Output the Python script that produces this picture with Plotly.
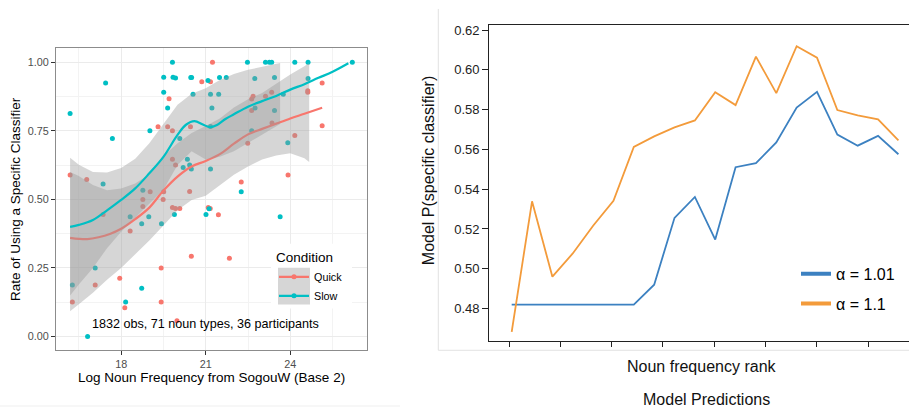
import plotly.graph_objects as go

W, H = 909, 409

# ---------------- Left panel data ----------------
quick_x = [16.19, 16.78, 17.36, 18.32, 18.77, 18.77, 19.03, 19.49, 19.51, 19.31,
           19.65, 19.70, 19.82, 19.82, 19.93, 20.43, 20.46, 19.82, 19.93, 20.08,
           20.86, 21.17, 21.24, 21.09, 21.16, 21.45, 20.49, 21.84, 16.27, 17.08,
           17.95, 19.42, 19.42, 18.13, 19.98, 22.26, 22.49, 22.63, 22.63, 22.68,
           23.12, 23.34, 23.35, 23.64, 23.92, 24.16, 24.62, 24.62, 25.13, 25.13]
quick_y = [0.589, 0.572, 0.445, 0.385, 0.500, 0.474, 0.528, 0.500, 0.528, 0.765,
           0.765, 0.867, 0.750, 0.646, 0.625, 0.529, 0.765, 0.470, 0.467, 0.467,
           0.929, 0.929, 1.000, 0.470, 0.467, 0.444, 0.293, 0.285, 0.126, 0.188,
           0.213, 0.250, 0.126, 0.105, 0.058, 0.563, 0.705, 0.824, 0.866, 0.876,
           0.876, 0.890, 0.778, 0.199, 0.589, 0.733, 0.896, 0.890, 0.924, 0.768]

slow_x = [16.19, 17.45, 17.69, 17.36, 19.02, 19.82, 19.51, 19.84, 19.93, 20.47,
          20.50, 19.51, 19.65, 20.55, 21.08, 21.17, 21.22, 20.08, 21.17, 20.20,
          20.35, 20.43, 20.49, 21.17, 18.77, 21.49, 21.73, 21.46, 22.48, 23.12,
          23.26, 23.34, 24.16, 24.63, 26.20, 22.74, 23.44, 24.63, 22.75, 23.44,
          23.75, 22.63, 23.91, 22.26, 18.32, 18.73, 18.98, 19.43, 19.89, 21.01,
          21.12, 23.64, 16.27, 17.08, 18.73, 18.16, 16.81]
slow_y = [0.813, 0.924, 0.722, 0.556, 0.750, 1.000, 0.945, 0.945, 0.942, 0.944,
          0.944, 0.890, 0.833, 0.883, 0.933, 0.883, 0.833, 0.722, 0.766, 0.616,
          0.646, 0.625, 0.611, 0.611, 0.533, 0.944, 0.944, 0.883, 1.000, 1.000,
          1.000, 1.000, 1.000, 1.000, 1.000, 0.941, 0.944, 0.941, 0.833, 0.824,
          0.883, 0.750, 0.706, 0.528, 0.437, 0.411, 0.437, 0.411, 0.445, 0.445,
          0.466, 0.437, 0.188, 0.250, 0.176, 0.126, 0.000]

# loess fits and confidence bands
quick_fit_x = [16.19, 16.5, 16.8, 17.2, 17.6, 18.0, 18.5, 19.0, 19.5, 20.0,
               20.5, 21.0, 21.5, 22.0, 22.5, 23.0, 23.5, 24.0, 24.5, 25.13]
quick_fit_y = [0.360, 0.356, 0.355, 0.362, 0.374, 0.393, 0.428, 0.470, 0.532, 0.583,
               0.620, 0.640, 0.665, 0.703, 0.737, 0.757, 0.776, 0.795, 0.812, 0.834]
quick_band_x = [16.19, 16.5, 17.0, 17.5, 18.0, 18.5, 19.0, 19.5, 20.0, 20.5,
                21.0, 21.5, 22.0, 22.5, 23.0, 23.5, 24.0, 24.5, 24.67]
quick_band_lo = [0.092, 0.118, 0.160, 0.207, 0.250, 0.300, 0.350, 0.405, 0.460, 0.498,
                 0.513, 0.550, 0.590, 0.620, 0.645, 0.660, 0.668, 0.650, 0.636]
quick_band_hi = [0.600, 0.585, 0.552, 0.533, 0.540, 0.558, 0.592, 0.658, 0.705, 0.742,
                 0.767, 0.795, 0.835, 0.865, 0.888, 0.922, 0.955, 0.985, 0.998]

slow_fit_x = [16.19, 16.5, 17.0, 17.5, 18.0, 18.5, 19.0, 19.5, 20.0, 20.3,
              20.6, 20.9, 21.15, 21.4, 21.7, 22.0, 22.5, 23.0, 23.5, 24.0,
              24.5, 25.0, 25.5, 26.06]
slow_fit_y = [0.400, 0.407, 0.425, 0.460, 0.498, 0.540, 0.595, 0.655, 0.735, 0.772,
              0.785, 0.773, 0.763, 0.771, 0.793, 0.810, 0.838, 0.858, 0.877, 0.900,
              0.920, 0.943, 0.965, 0.996]
slow_band_x = [16.19, 16.5, 17.0, 17.5, 18.0, 18.5, 19.0, 19.5, 20.0, 20.5,
               21.0, 21.5, 22.0, 22.5, 23.0, 23.64]
slow_band_lo = [0.150, 0.190, 0.250, 0.322, 0.382, 0.432, 0.485, 0.535, 0.625, 0.675,
                0.645, 0.655, 0.675, 0.705, 0.735, 0.775]
slow_band_hi = [0.652, 0.626, 0.600, 0.598, 0.614, 0.648, 0.705, 0.775, 0.845, 0.885,
                0.905, 0.935, 0.957, 0.972, 0.984, 0.997]

left_yticks = [0.0, 0.25, 0.5, 0.75, 1.0]
left_yticktext = ["0.00", "0.25", "0.50", "0.75", "1.00"]

# ---------------- Right panel data ----------------
rank = list(range(1, 21))
alpha_101 = [0.482, 0.482, 0.482, 0.482, 0.482, 0.482, 0.482, 0.492, 0.5256, 0.5361,
             0.5147, 0.5511, 0.5531, 0.5635, 0.5811, 0.5890, 0.5675, 0.5619, 0.5668, 0.5576]
alpha_11 = [0.4682, 0.5339, 0.4960, 0.5077, 0.5216, 0.5342, 0.5613, 0.5666, 0.5711, 0.5746,
            0.5888, 0.5823, 0.6067, 0.5883, 0.6119, 0.6062, 0.5798, 0.5771, 0.5751, 0.5646]

RED = "#F8766D"
TEAL = "#00BFC4"
BAND = "rgba(153,153,153,0.4)"
BLUE = "#3C81C1"
ORANGE = "#F39B3B"
FONT = "Liberation Sans, Arial, sans-serif"

fig = go.Figure()

# points
fig.add_trace(go.Scatter(x=quick_x, y=quick_y, mode="markers", xaxis="x", yaxis="y",
                         marker=dict(color=RED, size=5), showlegend=False, hoverinfo="skip"))
fig.add_trace(go.Scatter(x=slow_x, y=slow_y, mode="markers", xaxis="x", yaxis="y",
                         marker=dict(color=TEAL, size=5), showlegend=False, hoverinfo="skip"))

# smooths: ribbon then line, per group (ggplot order)
for bx, lo, hi, fx, fy, col in [
    (quick_band_x, quick_band_lo, quick_band_hi, quick_fit_x, quick_fit_y, RED),
    (slow_band_x, slow_band_lo, slow_band_hi, slow_fit_x, slow_fit_y, TEAL),
]:
    fig.add_trace(go.Scatter(x=bx + bx[::-1], y=hi + lo[::-1], mode="lines", fill="toself",
                             fillcolor=BAND, line=dict(width=0), xaxis="x", yaxis="y",
                             showlegend=False, hoverinfo="skip"))
    fig.add_trace(go.Scatter(x=fx, y=fy, mode="lines", line=dict(color=col, width=2.2, shape="spline"),
                             xaxis="x", yaxis="y", showlegend=False, hoverinfo="skip"))

# left legend entries
fig.add_trace(go.Scatter(x=[None], y=[None], mode="lines+markers", name="Quick",
                         line=dict(color=RED, width=2.2), marker=dict(color=RED, size=5),
                         xaxis="x", yaxis="y", legend="legend"))
fig.add_trace(go.Scatter(x=[None], y=[None], mode="lines+markers", name="Slow",
                         line=dict(color=TEAL, width=2.2), marker=dict(color=TEAL, size=5),
                         xaxis="x", yaxis="y", legend="legend"))

# right panel lines
fig.add_trace(go.Scatter(x=rank, y=alpha_101, mode="lines", line=dict(color=BLUE, width=1.8),
                         xaxis="x2", yaxis="y2", showlegend=False, hoverinfo="skip"))
fig.add_trace(go.Scatter(x=rank, y=alpha_11, mode="lines", line=dict(color=ORANGE, width=1.8),
                         xaxis="x2", yaxis="y2", showlegend=False, hoverinfo="skip"))
fig.add_trace(go.Scatter(x=[None], y=[None], mode="lines", name="\u03b1 = 1.01",
                         line=dict(color=BLUE, width=4), xaxis="x2", yaxis="y2",
                         legend="legend2", legendgroup="a"))
fig.add_trace(go.Scatter(x=[None], y=[None], mode="lines", name="\u03b1 = 1.1",
                         line=dict(color=ORANGE, width=4), xaxis="x2", yaxis="y2",
                         legend="legend2", legendgroup="b"))

def pxx(p):
    return p / W

def pxy(p):
    return 1 - p / H

fig.update_layout(
    width=W, height=H,
    margin=dict(l=0, r=0, t=0, b=0),
    paper_bgcolor="white", plot_bgcolor="white",
    font=dict(family=FONT, color="black"),
    xaxis=dict(domain=[pxx(56), pxx(366.7)], range=[15.69, 26.71], anchor="y",
               tick0=0, dtick=3, ticks="outside", ticklen=4, tickcolor="#333333",
               tickfont=dict(size=10.8, color="#4d4d4d"),
               showgrid=True, gridcolor="#ebebeb", gridwidth=1,
               minor=dict(dtick=1.5, tick0=0, showgrid=True, gridcolor="#f3f3f3", gridwidth=0.6),
               showline=True, linecolor="#8c8c8c", linewidth=1, mirror=True, zeroline=False),
    yaxis=dict(domain=[pxy(350), pxy(46.7)], range=[-0.05, 1.05], anchor="x",
               tickvals=left_yticks, ticktext=left_yticktext,
               ticks="outside", ticklen=4, tickcolor="#333333",
               tickfont=dict(size=10.8, color="#4d4d4d"),
               showgrid=True, gridcolor="#ebebeb", gridwidth=1,
               minor=dict(dtick=0.125, tick0=0, showgrid=True, gridcolor="#f3f3f3", gridwidth=0.6),
               showline=True, linecolor="#8c8c8c", linewidth=1, mirror=True, zeroline=False),
    xaxis2=dict(domain=[pxx(489.3), 1.0], range=[-0.1, 20.52], anchor="y2",
                tick0=0.87, dtick=2.52, showticklabels=False,
                ticks="outside", ticklen=5, tickcolor="#222222", tickwidth=1.2,
                showgrid=False, showline=True, linecolor="#222222", linewidth=1.3,
                mirror=True, zeroline=False),
    yaxis2=dict(domain=[pxy(341), pxy(23.3)], range=[0.4635, 0.6225], anchor="x2",
                tick0=0.48, dtick=0.02, tickformat=".2f",
                ticks="outside", ticklen=6, tickcolor="#222222", tickwidth=1.2,
                tickfont=dict(size=13, color="#222222"),
                showgrid=False, showline=True, linecolor="#222222", linewidth=1.3,
                zeroline=False),
    legend=dict(x=pxx(274), y=pxy(244), xanchor="left", yanchor="top",
                bgcolor="rgba(0,0,0,0)", borderwidth=0,
                title=dict(text="Condition", font=dict(size=13.5, color="black")),
                font=dict(size=10.8, color="black"), itemwidth=30, tracegroupgap=0),
    legend2=dict(x=pxx(796), y=pxy(256), xanchor="left", yanchor="top",
                 bgcolor="rgba(0,0,0,0)", borderwidth=0,
                 font=dict(size=16, color="black"), itemwidth=30,
                 traceorder="grouped", tracegroupgap=6),
    shapes=[
        # image frame lines around right figure
        dict(type="line", xref="paper", yref="paper", x0=pxx(438.3), x1=pxx(438.3),
             y0=pxy(350), y1=pxy(7), line=dict(color="#e2e2e2", width=1)),
        dict(type="line", xref="paper", yref="paper", x0=pxx(438.3), x1=1.0,
             y0=pxy(350), y1=pxy(350), line=dict(color="#e2e2e2", width=1)),
        dict(type="line", xref="paper", yref="paper", x0=0, x1=pxx(400),
             y0=pxy(406), y1=pxy(406), line=dict(color="#efefef", width=1)),
        # legend background and key area
        dict(type="rect", xref="paper", yref="paper", x0=pxx(271), x1=pxx(352),
             y0=pxy(308), y1=pxy(243), fillcolor="white", line=dict(width=0), layer="above"),
        dict(type="rect", xref="paper", yref="paper", x0=pxx(278), x1=pxx(310),
             y0=pxy(304), y1=pxy(267), fillcolor="#d6d6d6", line=dict(width=0), layer="above"),
    ],
    annotations=[
        dict(text="Log Noun Frequency from SogouW (Base 2)", xref="paper", yref="paper",
             x=pxx(211.3), y=pxy(377.7), xanchor="center", yanchor="middle", showarrow=False,
             font=dict(size=13.5, color="black")),
        dict(text="Rate of Using a Specific Classifier", xref="paper", yref="paper",
             x=pxx(15.7), y=pxy(198.3), xanchor="center", yanchor="middle", showarrow=False,
             textangle=-90, font=dict(size=13.5, color="black")),
        dict(text="1832 obs, 71 noun types, 36 participants", xref="x", yref="y",
             x=21.0, y=0.047, xanchor="center", yanchor="middle", showarrow=False,
             font=dict(size=12.6, color="black")),
        dict(text="Model P(specific classifier)", xref="paper", yref="paper",
             x=pxx(429.3), y=pxy(169.7), xanchor="center", yanchor="middle", showarrow=False,
             textangle=-90, font=dict(size=16, color="#111111")),
        dict(text="Noun frequency rank", xref="paper", yref="paper",
             x=pxx(702), y=pxy(366), xanchor="center", yanchor="middle", showarrow=False,
             font=dict(size=16, color="#111111")),
        dict(text="Model Predictions", xref="paper", yref="paper",
             x=pxx(706), y=pxy(399), xanchor="center", yanchor="middle", showarrow=False,
             font=dict(size=16, color="#111111")),
    ],
)

fig.write_html(
    "out.html",
    config={"displayModeBar": False},
    post_script="document.body.style.margin='0';document.body.style.overflow='hidden';",
)
